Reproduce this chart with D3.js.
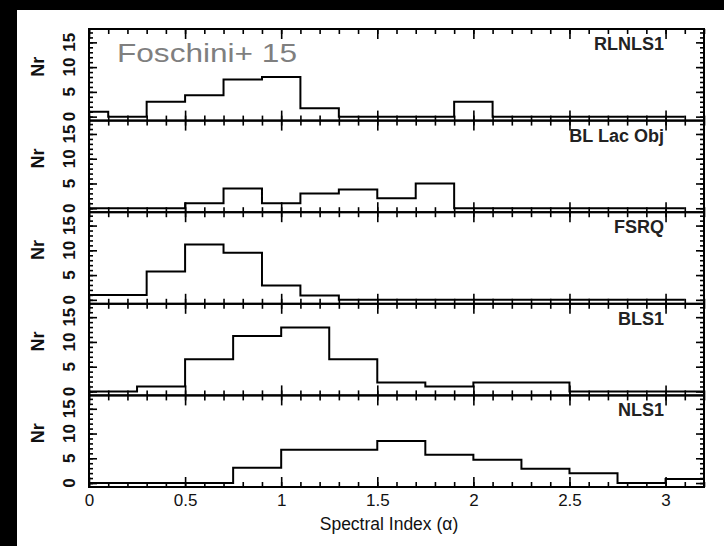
<!DOCTYPE html>
<html><head><meta charset="utf-8">
<script src="https://cdn.jsdelivr.net/npm/d3@7"></script>
<style>html,body{margin:0;padding:0;background:#fff;} svg{display:block;}</style>
</head><body><svg id="c" width="724" height="546"></svg>
<script>
// ---- data ----
const panelNames = ["RLNLS1", "BL Lac Obj", "FSRQ", "BLS1", "NLS1"];
// bin edges (spectral index alpha)
const edgesNarrow = [-0.1, 0.1, 0.3, 0.5, 0.7, 0.9, 1.1, 1.3, 1.5, 1.7, 1.9, 2.1, 2.3, 2.5, 2.7, 2.9, 3.1];
const edgesWide = [0, 0.25, 0.5, 0.75, 1, 1.25, 1.5, 1.75, 2, 2.25, 2.5, 2.75, 3, 3.25];
// counts per bin (Nr)
const rlnls1 = [1, 0, 3, 4.3, 7.5, 8, 1.7, 0, 0, 0, 3, 0, 0, 0, 0, 0];
const blLac  = [0, 0, 0, 1, 4, 1, 3, 3.8, 2, 5, 0, 0, 0, 0, 0, 0];
const fsrq   = [1, 1, 5.7, 11.2, 9.5, 2.9, 0.9, 0, 0, 0, 0, 0, 0, 0, 0, 0];
const bls1   = [0, 1, 6.5, 11.2, 12.9, 6.5, 1.8, 1, 1.8, 1.8, 0, 0, 0];
const nls1   = [0, 0, 0, 3.1, 6.7, 6.7, 8.5, 5.7, 4.7, 2.9, 2, 0, 0.8];
const xTickLabels = [0, 0.5, 1, 1.5, 2, 2.5, 3];
const yTickLabels = [0, 5, 10, 15];
const panelEdges = [edgesNarrow, edgesNarrow, edgesNarrow, edgesWide, edgesWide];
const panelValues = [rlnls1, blLac, fsrq, bls1, nls1];

// ---- layout ----
const W = 724, H = 546;
const L = 89, R = 704, T = 29, B = 487;
const nP = panelNames.length;
const ph = (B - T) / nP;

const svg = d3.select("#c");
svg.append("rect").attr("width", W).attr("height", H).attr("fill", "#fff");
svg.append("rect").attr("x", 0).attr("y", 0).attr("width", 17).attr("height", H).attr("fill", "#000");
svg.append("rect").attr("x", 0).attr("y", 0).attr("width", W).attr("height", 10).attr("fill", "#000");

const x = d3.scaleLinear().domain([0, 3.2]).range([L, R]);
const xMinor = d3.range(0, 33).map(i => +(i * 0.1).toFixed(1));
const xMajor = xMinor.filter(v => Math.abs(v * 2 - Math.round(v * 2)) < 1e-6);
const yMinor = d3.range(0, 18);

const font = "'Liberation Sans', Arial, Helvetica, sans-serif";

panelNames.forEach((name, i) => {
  const top = T + i * ph, bot = top + ph;
  const y = d3.scaleLinear().domain([-0.8, 17.7]).range([bot, top]);
  const g = svg.append("g");

  const cid = "clip" + i;
  svg.append("clipPath").attr("id", cid)
    .append("rect").attr("x", L).attr("y", top).attr("width", R - L).attr("height", ph);

  // histogram
  const edges = panelEdges[i], vals = panelValues[i];
  const pts = edges.map((e, k) => [e, vals[Math.min(k, vals.length - 1)]]);
  const line = d3.line().x(d => x(d[0])).y(d => y(d[1])).curve(d3.curveStepAfter);
  g.append("path").attr("d", line(pts)).attr("fill", "none")
    .attr("stroke", "#000").attr("stroke-width", 2).attr("clip-path", `url(#${cid})`);

  // axes ticks (inward)
  const mk = (axis, tr) => {
    const a = g.append("g").attr("transform", tr).call(axis);
    a.select(".domain").remove();
    a.selectAll("line").attr("stroke", "#000").attr("stroke-width", 1.6);
    a.selectAll("text").remove();
  };
  mk(d3.axisBottom(x).tickValues(xMinor).tickSize(-5), `translate(0,${bot})`);
  mk(d3.axisBottom(x).tickValues(xMajor).tickSize(-10), `translate(0,${bot})`);
  mk(d3.axisTop(x).tickValues(xMinor).tickSize(-5), `translate(0,${top})`);
  mk(d3.axisTop(x).tickValues(xMajor).tickSize(-10), `translate(0,${top})`);
  mk(d3.axisLeft(y).tickValues(yMinor).tickSize(-4), `translate(${L},0)`);
  mk(d3.axisLeft(y).tickValues(yTickLabels).tickSize(-8), `translate(${L},0)`);
  mk(d3.axisRight(y).tickValues(yMinor).tickSize(-4), `translate(${R},0)`);
  mk(d3.axisRight(y).tickValues(yTickLabels).tickSize(-8), `translate(${R},0)`);

  // frame
  g.append("rect").attr("x", L).attr("y", top).attr("width", R - L).attr("height", ph)
    .attr("fill", "none").attr("stroke", "#000").attr("stroke-width", 2);

  // y tick labels (rotated)
  yTickLabels.forEach(v => {
    g.append("text").attr("transform", `translate(69,${y(v)}) rotate(-90)`)
      .attr("text-anchor", "middle").attr("dy", "0.36em")
      .attr("font-family", font).attr("font-size", 17).attr("font-weight", "bold")
      .attr("fill", "#111").text(v);
  });
  // Nr label
  g.append("text").attr("transform", `translate(38,${(top + bot) / 2 - 8}) rotate(-90)`)
    .attr("text-anchor", "middle").attr("dy", "0.36em")
    .attr("font-family", font).attr("font-size", 18).attr("font-weight", "bold")
    .attr("fill", "#111").text("Nr");
  // panel name
  g.append("text").attr("x", 664).attr("y", top + 21).attr("text-anchor", "end")
    .attr("font-family", font).attr("font-size", 18).attr("font-weight", "bold")
    .attr("fill", "#222").text(name);
});

// x tick labels
const xa = svg.append("g").attr("transform", `translate(0,${B})`)
  .call(d3.axisBottom(x).tickValues(xTickLabels).tickSize(0).tickPadding(7).tickFormat(d3.format("")));
xa.select(".domain").remove();
xa.selectAll("text").attr("font-family", font).attr("font-size", 17).attr("fill", "#111");

svg.append("text").attr("x", 389).attr("y", 530).attr("text-anchor", "middle")
  .attr("font-family", font).attr("font-size", 17.5).attr("fill", "#111")
  .text("Spectral Index (α)");

svg.append("text").attr("x", 117).attr("y", 62)
  .attr("font-family", font).attr("font-size", 26).attr("fill", "#7f7f7f")
  .attr("textLength", 180).attr("lengthAdjust", "spacingAndGlyphs")
  .text("Foschini+ 15");
</script>
</body></html>
